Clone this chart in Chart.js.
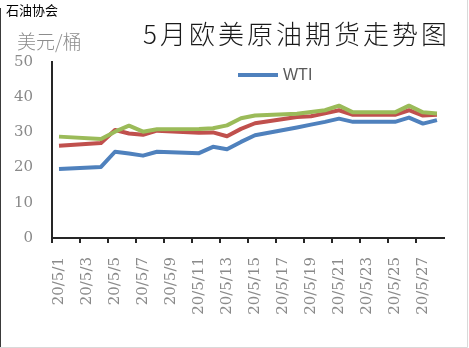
<!DOCTYPE html>
<html>
<head>
<meta charset="utf-8">
<script src="https://cdn.jsdelivr.net/npm/chart.js@4"></script>
<style>
  html, body { margin: 0; padding: 0; background: #ffffff; }
  #wrap { width: 469px; height: 348px; position: relative; }
  canvas { display: block; }
</style>
</head>
<body>
<div id="wrap"><canvas id="c" width="469" height="348"></canvas></div>
<script>
// ---- data ----
const chartTitle = '5月欧美原油期货走势图';
const sourceText = '石油协会';
const unitText = '美元/桶';
const dates = ['20/5/1','20/5/2','20/5/3','20/5/4','20/5/5','20/5/6','20/5/7','20/5/8','20/5/9','20/5/10',
  '20/5/11','20/5/12','20/5/13','20/5/14','20/5/15','20/5/16','20/5/17','20/5/18','20/5/19','20/5/20',
  '20/5/21','20/5/22','20/5/23','20/5/24','20/5/25','20/5/26','20/5/27','20/5/28'];
const seriesNames = ['WTI', '布伦特', '其他'];
const wti   = [19.6,null,null,20.2,24.5,24.0,23.4,24.5,null,null,24.1,25.9,25.2,27.3,29.2,null,null,31.4,32.2,33.0,33.9,33.0,null,null,33.0,34.2,32.5,33.5];
const brent = [26.2,null,null,27.0,30.7,29.7,29.3,30.5,null,null,29.9,30.0,28.9,31.0,32.6,null,null,34.4,34.6,35.4,36.3,35.0,null,null,35.0,36.3,34.8,35.0];
const third = [28.8,null,null,28.1,30.2,31.9,30.2,30.9,null,null,31.0,31.2,32.0,34.0,34.8,null,null,35.3,35.8,36.3,37.6,35.7,null,null,35.7,37.6,35.7,35.4];
const yTicks = [0, 10, 20, 30, 40, 50];
const legendShown = ['WTI'];

const colors = ['#4F81BD', '#C0504D', '#9BBB59'];

const decor = {
  id: 'decor',
  afterDraw(chart) {
    const ctx = chart.ctx;
    ctx.save();
    // frame lines
    ctx.strokeStyle = '#3a3a3a'; ctx.lineWidth = 1;
    ctx.beginPath(); ctx.moveTo(0.5, 8); ctx.lineTo(0.5, 348); ctx.stroke();
    ctx.strokeStyle = '#d9d9d9';
    ctx.beginPath(); ctx.moveTo(467.5, 0); ctx.lineTo(467.5, 347.5); ctx.lineTo(0, 347.5); ctx.stroke();
    // source text
    ctx.fillStyle = '#000000';
    ctx.font = '13px "Noto Sans CJK SC"';
    ctx.textBaseline = 'middle'; ctx.textAlign = 'left';
    ctx.fillText(sourceText, 6, 10);
    // unit text
    ctx.fillStyle = '#8c8c8c';
    ctx.font = '300 19px "Noto Sans CJK SC"';
    ctx.fillText(unitText, 17, 42);
    // title
    ctx.fillStyle = '#1a1a1a';
    ctx.font = '300 26px "Noto Sans CJK SC"';
    try { ctx.letterSpacing = '3px'; } catch (e) {}
    ctx.fillText(chartTitle, 143, 34);
    try { ctx.letterSpacing = '0px'; } catch (e) {}
    // legend
    const items = chart.data.datasets.filter(d => legendShown.includes(d.label));
    let lx = 238, ly = 75;
    ctx.font = '16px "Liberation Sans"';
    items.forEach(d => {
      ctx.strokeStyle = d.borderColor; ctx.lineWidth = 4; ctx.lineCap = 'butt';
      ctx.beginPath(); ctx.moveTo(lx, ly); ctx.lineTo(lx + 40, ly); ctx.stroke();
      ctx.fillStyle = '#595959';
      ctx.fillText(d.label, lx + 45, ly + 1);
      lx += 45 + ctx.measureText(d.label).width + 20;
    });
    ctx.restore();
  }
};

new Chart(document.getElementById('c'), {
  type: 'line',
  data: {
    labels: dates,
    datasets: [
      { label: seriesNames[0], data: wti,   borderColor: colors[0], order: 2 },
      { label: seriesNames[1], data: brent, borderColor: colors[1], order: 1 },
      { label: seriesNames[2], data: third, borderColor: colors[2], order: 0 }
    ].map(d => Object.assign(d, { borderWidth: 4, pointRadius: 0, tension: 0, spanGaps: true, fill: false, borderJoinStyle: 'round' }))
  },
  options: {
    responsive: false,
    animation: false,
    layout: { padding: { left: 0, top: 62, right: 2, bottom: 0 } },
    plugins: { legend: { display: false }, title: { display: false }, tooltip: { enabled: false } },
    scales: {
      x: {
        type: 'category',
        offset: true,
        afterFit(s) { s.height = 110; },
        grid: {
          display: true, drawOnChartArea: false, drawTicks: true, tickLength: 5, offset: true,
          lineWidth: 2,
          color: c => (c.index % 2 === 0 ? '#262626' : 'rgba(0,0,0,0)')
        },
        border: { display: true, color: '#262626', width: 2 },
        ticks: {
          autoSkip: false, maxRotation: 90, minRotation: 90, padding: 14,
          color: '#8a8a8a', font: { family: 'DejaVu Serif', size: 15 },
          callback: function (v, i) { return i % 2 === 0 ? dates[i] : ''; }
        }
      },
      y: {
        min: yTicks[0], max: yTicks[yTicks.length - 1],
        afterFit(s) { s.width = 52; },
        afterBuildTicks(s) { s.ticks = yTicks.map(v => ({ value: v })); },
        grid: { display: false, drawTicks: false },
        border: { display: true, color: '#262626', width: 2 },
        ticks: { padding: 19, color: '#8a8a8a', font: { family: 'DejaVu Serif', size: 15 } }
      }
    }
  },
  plugins: [decor]
});
</script>
</body>
</html>
